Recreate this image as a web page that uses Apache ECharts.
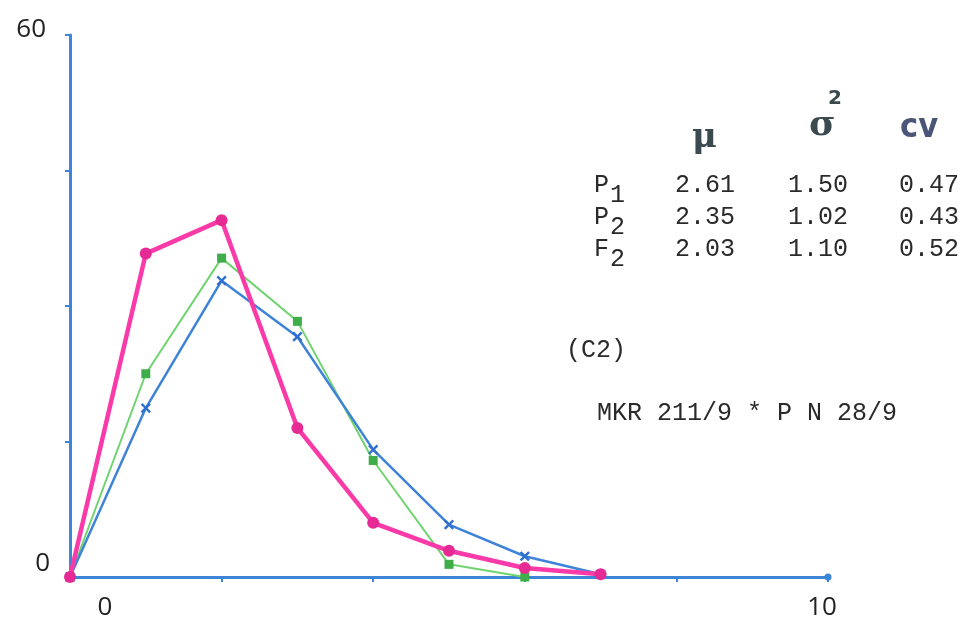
<!DOCTYPE html>
<html>
<head>
<meta charset="utf-8">
<script src="https://cdn.jsdelivr.net/npm/echarts@6/dist/echarts.min.js"></script>
<style>html,body{margin:0;padding:0;background:#fff;}#c{width:970px;height:621px;}</style>
</head>
<body>
<div id="c"></div>
<script>
// x positions (classes)
var xValues = [0, 1, 2, 3, 4, 5, 6, 7];
// series values (percent frequency)
var seriesP1 = [0, 18.7, 32.8, 26.6, 14.1, 5.8, 2.3, 0.3];   // blue
var seriesP2 = [0, 22.5, 35.3, 28.3, 12.9, 1.4, 0.0];        // green
var seriesF2 = [0, 35.8, 39.5, 16.5, 6.0, 2.9, 1.0, 0.3];    // pink
// axis tick labels shown
var xLabelsShown = [0, 10];
var yLabelsShown = [0, 60];
// statistics table
var headers = ['μ', 'σ', 'cv'];
var rowNames = ['P', 'P', 'F'];
var rowSubs = ['1', '2', '2'];
var muVals = ['2.61', '2.35', '2.03'];
var varVals = ['1.50', '1.02', '1.10'];
var cvVals = ['0.47', '0.43', '0.52'];
var noteCode = '(C2)';
var noteCross = 'MKR 211/9 * P N 28/9';

function pairs(arr) { return arr.map(function (v, i) { return [xValues[i], v]; }); }

var axisBlue = '#3d85d6';
var mono = '"Liberation Mono", "DejaVu Sans Mono", monospace';
var txtColor = '#2a2a2a';

var graphics = [];
var colX = [705, 818, 929];
var rowY = [185, 217, 249];
// headers
graphics.push({type: 'text', left: 692, top: 121, style: {text: headers[0], font: 'bold 34px "DejaVu Serif", serif', fill: '#3b4a4e'}});
graphics.push({type: 'text', left: 809, top: 108, style: {text: headers[1], font: 'bold 36px "DejaVu Serif", serif', fill: '#3b4a4e'}});
graphics.push({type: 'text', left: 828, top: 89, style: {text: '2', font: 'bold 20px "DejaVu Sans", sans-serif', fill: '#3b4a4e'}});
graphics.push({type: 'text', left: 900, top: 111, style: {text: headers[2], font: 'bold 34px "DejaVu Sans Condensed", "DejaVu Sans", sans-serif', fill: '#4a5578'}});
for (var i = 0; i < rowNames.length; i++) {
  graphics.push({type: 'text', x: 594, y: rowY[i], style: {text: rowNames[i], font: '25px ' + mono, fill: txtColor, verticalAlign: 'middle'}});
  graphics.push({type: 'text', x: 610, y: rowY[i] + 10, style: {text: rowSubs[i], font: '25px ' + mono, fill: txtColor, verticalAlign: 'middle'}});
  graphics.push({type: 'text', x: colX[0], y: rowY[i], style: {text: muVals[i], font: '25px ' + mono, fill: txtColor, align: 'center', verticalAlign: 'middle'}});
  graphics.push({type: 'text', x: colX[1], y: rowY[i], style: {text: varVals[i], font: '25px ' + mono, fill: txtColor, align: 'center', verticalAlign: 'middle'}});
  graphics.push({type: 'text', x: colX[2], y: rowY[i], style: {text: cvVals[i], font: '25px ' + mono, fill: txtColor, align: 'center', verticalAlign: 'middle'}});
}
graphics.push({type: 'text', x: 566, y: 350, style: {text: noteCode, font: '25px ' + mono, fill: txtColor, verticalAlign: 'middle'}});
graphics.push({type: 'text', x: 597, y: 413, style: {text: noteCross, font: '25px ' + mono, fill: txtColor, verticalAlign: 'middle'}});

var chart = echarts.init(document.getElementById('c'), null, {renderer: 'canvas'});
chart.setOption({
  backgroundColor: '#ffffff',
  animation: false,
  grid: {left: 70, right: 142, top: 35, bottom: 43, containLabel: false},
  xAxis: {
    type: 'value', min: 0, max: 10, interval: 2,
    axisLine: {show: true, lineStyle: {color: axisBlue, width: 3}, symbol: ['none', 'circle'], symbolSize: [7, 7]},
    axisTick: {show: true, length: 5, inside: false, lineStyle: {color: axisBlue, width: 2}},
    splitLine: {show: false},
    axisLabel: {
      show: true, margin: 18, color: '#222',
      fontFamily: '"Open Sans", sans-serif', fontSize: 26,
      formatter: function (v) {
        if (v === xLabelsShown[0]) return '{a|' + v + '}';
        if (v === xLabelsShown[1]) return '{b|' + v + '}';
        return '';
      },
      rich: {
        a: {fontFamily: '"Open Sans", sans-serif', fontSize: 26, color: '#222', padding: [0, 0, 0, 70]},
        b: {fontFamily: '"Open Sans", sans-serif', fontSize: 26, color: '#222', padding: [0, 12, 0, 0]}
      }
    }
  },
  yAxis: {
    type: 'value', min: 0, max: 60, interval: 15,
    axisLine: {show: true, lineStyle: {color: axisBlue, width: 3}},
    axisTick: {show: true, length: 5, inside: false, lineStyle: {color: axisBlue, width: 2}},
    splitLine: {show: false},
    axisLabel: {
      show: true, margin: 18, color: '#222',
      fontFamily: '"Open Sans", sans-serif', fontSize: 26,
      formatter: function (v) {
        if (v === yLabelsShown[0]) return '{a|' + v + '}';
        if (v === yLabelsShown[1]) return '{b|' + v + '}';
        return '';
      },
      rich: {
        a: {fontFamily: '"Open Sans", sans-serif', fontSize: 26, color: '#222', padding: [0, 2, 26, 0]},
        b: {fontFamily: '"Open Sans", sans-serif', fontSize: 26, color: '#222', padding: [0, 6, 10, 0]}
      }
    }
  },
  series: [
    {
      name: 'P2', type: 'line', data: pairs(seriesP2),
      lineStyle: {color: '#6fd46f', width: 2},
      itemStyle: {color: '#3fae4a'},
      symbol: 'rect', symbolSize: 9, z: 2
    },
    {
      name: 'P1', type: 'line', data: pairs(seriesP1),
      lineStyle: {color: '#3d83d8', width: 2.5},
      itemStyle: {color: '#2f6fd0'},
      symbol: 'path://M4,0H6V4H10V6H6V10H4V6H0V4H4Z', symbolRotate: 45, symbolSize: 12, z: 3
    },
    {
      name: 'F2', type: 'line', data: pairs(seriesF2),
      lineStyle: {color: '#fa3aa8', width: 4.5},
      itemStyle: {color: '#e52a93'},
      symbol: 'circle', symbolSize: 12, z: 4
    }
  ],
  graphic: graphics
});
</script>
</body>
</html>
